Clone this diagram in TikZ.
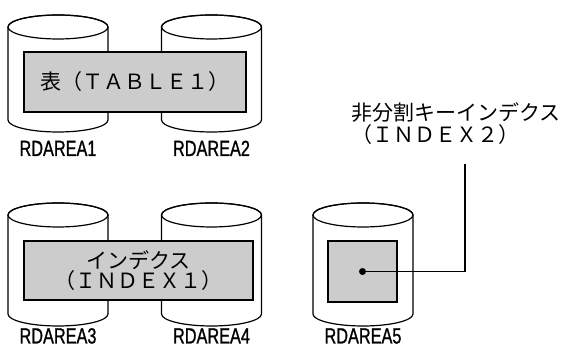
\documentclass[tikz,border=0pt]{standalone}
\usepackage{fontspec}
\newfontfamily\jp{Noto Sans CJK JP}
\newfontfamily\lblfont{Liberation Sans}[FakeStretch=0.74,FakeBold=1]
\tikzset{
  drum/.style={draw, fill=white, line width=1.2pt},
  area/.style={draw, fill=black!20, line width=1.2pt, inner sep=0pt, align=center,
    font=\jp\fontsize{21}{20}\selectfont},
  rdlabel/.style={font=\lblfont\fontsize{22}{22}\selectfont, inner sep=0pt, anchor=base}
}
\begin{document}
\begin{tikzpicture}[x=1pt,y=1pt]
\useasboundingbox (0,0) rectangle (563,347);
% RDAREA cylinders
\foreach \cx/\yt/\yb in {58/320/227, 211.5/320/227, 58/132/33, 211.5/132/33, 363/132/33}{
  \draw[drum] (\cx-50,\yt) -- (\cx-50,\yb) arc (180:360:50 and 12) -- (\cx+50,\yt)
    arc (0:180:50 and 12) -- cycle;
  \draw[line width=1.2pt] (\cx,\yt) ellipse (50 and 12);
}
% stored objects
\node[area, minimum width=222pt, minimum height=60pt] (table1) at (135,265) {表（ＴＡＢＬＥ１）};
\node[area, minimum width=229pt, minimum height=59pt] (index1) at (138.5,76.5) {インデクス\\（ＩＮＤＥＸ１）};
\node[area, minimum width=69pt, minimum height=61pt] (index2) at (362.5,75.5) {};
\node[circle, fill, inner sep=0pt, minimum size=7pt] (dot) at (index2.center) {};
% label of the non-partitioned index
\node[anchor=west, align=left, inner sep=0pt, font=\jp\fontsize{21}{22}\selectfont] (idx2lbl)
  at (351,223) {非分割キーインデクス\\（ＩＮＤＥＸ２）};
\coordinate (lead) at (465,183);
\draw[line width=1.2pt] (dot.center) -| (lead);
% area names
\node[rdlabel] (rd1) at (58,191) {RDAREA1};
\node[rdlabel] (rd2) at (211.5,191) {RDAREA2};
\node[rdlabel] (rd3) at (58,3.5) {RDAREA3};
\node[rdlabel] (rd4) at (211.5,3.5) {RDAREA4};
\node[rdlabel] (rd5) at (363,3.5) {RDAREA5};
\end{tikzpicture}
\end{document}
